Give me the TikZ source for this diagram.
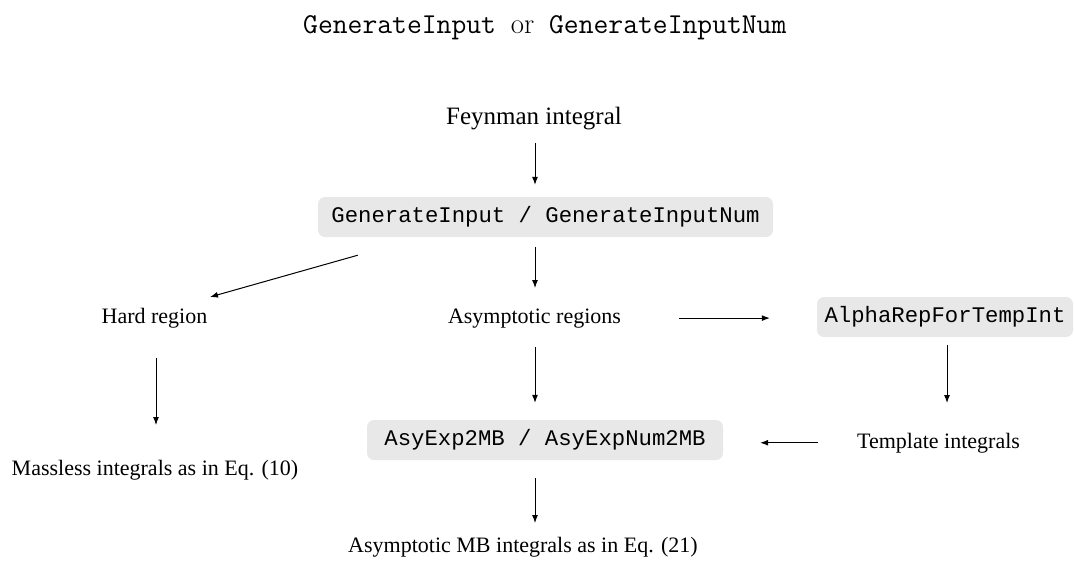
\documentclass[tikz,border=0pt]{standalone}
\usepackage{fontspec}
\newfontfamily\tmsfont{Liberation Serif}
\newfontfamily\courfont{Liberation Mono}
\usetikzlibrary{arrows.meta,calc}
\definecolor{boxgray}{HTML}{E8E8E8}
\begin{document}
\begin{tikzpicture}[x=1pt,y=-1pt,
  txt/.style={inner sep=0pt, anchor=base, font=\tmsfont\fontsize{22}{26}\selectfont},
  codebox/.style={fill=boxgray, rounded corners=7pt, minimum height=40pt, inner sep=0pt, font=\courfont\fontsize{22.3}{26}\selectfont},
  arr/.style={-{Latex[length=8pt,width=6pt]}, line width=1pt}]
\useasboundingbox (0,0) rectangle (1075,560);

\node[anchor=base west, inner sep=0pt, font=\fontsize{28.8}{32}\selectfont] (title) at (303,33) {\ttfamily GenerateInput {\rmfamily or} GenerateInputNum};

\node[txt, font=\tmsfont\fontsize{25}{30}\selectfont] (feyn) at (534,124) {Feynman integral};
\node[codebox, minimum width=455pt] (gen) at (545.5,217) {GenerateInput / GenerateInputNum};
\node[txt] (hard) at (154.5,323) {Hard region};
\node[txt] (asym) at (534.5,323) {Asymptotic regions};
\node[codebox, minimum width=256pt] (alpha) at (945,317) {AlphaRepForTempInt};
\node[txt] (templ) at (938.5,448) {Template integrals};
\node[codebox, minimum width=356pt] (asyexp) at (545,440) {AsyExp2MB / AsyExpNum2MB};
\node[txt] (massless) at (155,475) {Massless integrals as in Eq. (10)};
\node[txt] (mb) at (523,552) {Asymptotic MB integrals as in Eq. (21)};

\draw[arr] ($(feyn.base)+(1,19)$) -- ($(feyn.base |- gen.north)+(1,-12)$);
\draw[arr] ($(asym.base |- gen.south)+(0.5,10)$) -- ($(asym.base)+(0.5,-35)$);
\draw[arr] ($(gen.south west)+(40,18)$) -- ($(hard.base)+(55.5,-26)$);
\draw[arr] ($(hard.base)+(1.5,35)$) -- ($(hard.base |- massless.base)+(1.5,-50)$);
\draw[arr] ($(asym.east)+(58,0)$) -- ($(asym.east -| alpha.west)+(-47,0)$);
\draw[arr] ($(alpha.south)+(2,8)$) -- ($(alpha.south |- templ.base)+(2,-45)$);
\draw[arr] ($(templ.west)+(-39,0)$) -- ($(templ.west -| asyexp.east)+(37,0)$);
\draw[arr] ($(asym.base)+(0.5,24)$) -- ($(asym.base |- asyexp.north)+(0.5,-17)$);
\draw[arr] ($(asym.base |- asyexp.south)+(0.5,18)$) -- ($(asym.base |- mb.base)+(0.5,-29)$);
\end{tikzpicture}
\end{document}
